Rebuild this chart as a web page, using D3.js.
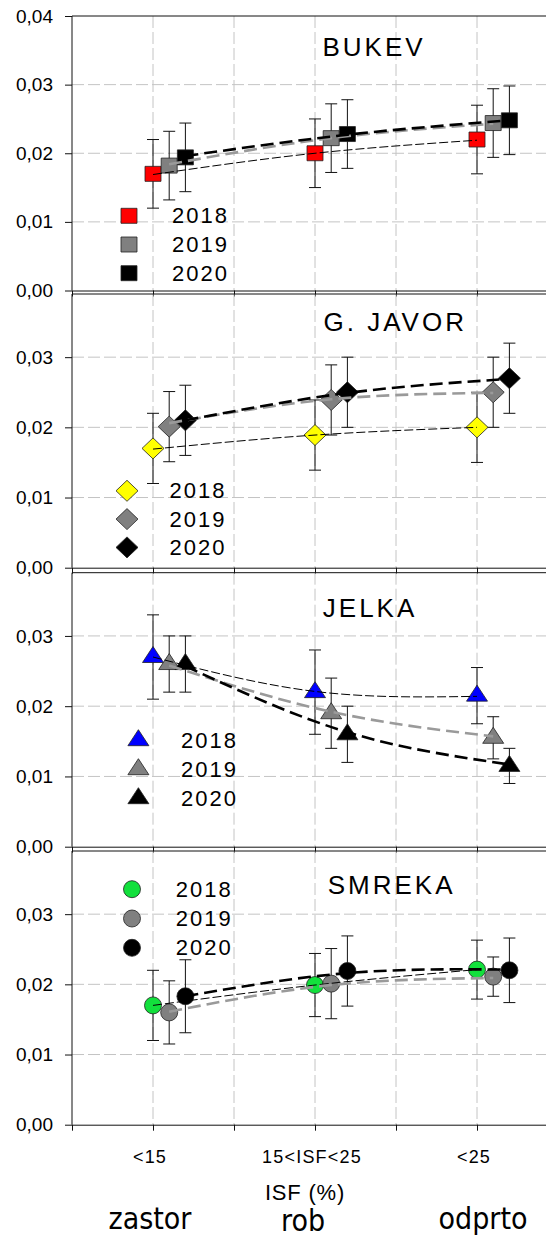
<!DOCTYPE html>
<html><head><meta charset="utf-8">
<script src="https://cdn.jsdelivr.net/npm/d3@7"></script>
<style>body{margin:0;background:#fff} svg{display:block;font-family:"Liberation Sans",Arial,sans-serif}</style>
</head><body>
<script>
// ---------- DATA ----------
const categories = ["<15", "15<ISF<25", "<25"];
const zoneLabels = ["zastor", "rob", "odprto"];
const years = ["2018", "2019", "2020"];
const species = ["BUKEV", "G. JAVOR", "JELKA", "SMREKA"];
const yTicksTop = [0, 0.01, 0.02, 0.03, 0.04];
const yTicks = [0, 0.01, 0.02, 0.03];
const xAxisLabel = "ISF (%)";

// means by year [2018, 2019, 2020] x category
const bukevMeans  = [[0.0170, 0.0200, 0.0220], [0.0182, 0.0222, 0.0244], [0.0194, 0.0228, 0.0248]];
const bukevErr    = [[0.0050, 0.0050, 0.0050], [0.0050, 0.0050, 0.0050], [0.0050, 0.0050, 0.0050]];
const bukevTrend  = [[0.0169, 0.0200, 0.0219], [0.0184, 0.0222, 0.0243], [0.0196, 0.0227, 0.0248]];

const javorMeans  = [[0.0170, 0.0189, 0.0200], [0.0201, 0.0239, 0.0250], [0.0210, 0.0250, 0.0270]];
const javorErr    = [[0.0050, 0.0050, 0.0050], [0.0050, 0.0050, 0.0050], [0.0050, 0.0050, 0.0050]];
const javorTrend  = [[0.0169, 0.0189, 0.0200], [0.0206, 0.0240, 0.0249], [0.0210, 0.0249, 0.0269]];

const jelkaMeans  = [[0.0270, 0.0220, 0.0215], [0.0260, 0.0190, 0.0155], [0.0260, 0.0160, 0.0115]];
const jelkaErr    = [[0.0060, 0.0060, 0.0040], [0.0040, 0.0050, 0.0030], [0.0040, 0.0040, 0.0025]];
const jelkaTrend  = [[0.0270, 0.0221, 0.0214], [0.0258, 0.0192, 0.0157], [0.0257, 0.0163, 0.0117]];

const smrekaMeans = [[0.0170, 0.0199, 0.0221], [0.0160, 0.0201, 0.0211], [0.0183, 0.0219, 0.0220]];
const smrekaErr   = [[0.0050, 0.0045, 0.0042], [0.0045, 0.0050, 0.0028], [0.0052, 0.0050, 0.0046]];
const smrekaTrend = [[0.0170, 0.0199, 0.0221], [0.0161, 0.0199, 0.0209], [0.0183, 0.0216, 0.0221]];

// ---------- LAYOUT / STYLE ----------
const W = 546, H = 1239;
const svg = d3.select("body").append("svg").attr("width", W).attr("height", H);

const panels = [
  {name: species[0], shape: "square",   color: "#ff0000", means: bukevMeans,  errs: bukevErr,  trends: bukevTrend,
   top: 16,    bottom: 290.5,  ymax: 0.040, ticks: yTicksTop, title: [322.5, 56],   legend: {mx: 129, tx: 172, base: 223.3, step: 28.7}},
  {name: species[1], shape: "diamond",  color: "#ffff00", means: javorMeans,  errs: javorErr,  trends: javorTrend,
   top: 294,   bottom: 567.7,  ymax: 0.039, ticks: yTicks,    title: [323.5, 330.7], legend: {mx: 127, tx: 169.5, base: 498.3, step: 28.3}},
  {name: species[2], shape: "triangle", color: "#0000ff", means: jelkaMeans,  errs: jelkaErr,  trends: jelkaTrend,
   top: 572.7, bottom: 846.7,  ymax: 0.039, ticks: yTicks,    title: [322.8, 616.7], legend: {mx: 138.4, tx: 181, base: 747.7, step: 29}},
  {name: species[3], shape: "circle",   color: "#12e03c", means: smrekaMeans, errs: smrekaErr, trends: smrekaTrend,
   top: 851,   bottom: 1124.7, ymax: 0.039, ticks: yTicks,    title: [327.7, 894],   legend: {mx: 132, tx: 175.7, base: 896.7, step: 29.3}}
];

const x = d3.scaleLinear().domain([0, 6]).range([72, 558]);
const catPos = [1, 3, 5];
const yearOffset = [0, 0.2, 0.4];
const gridX = [1, 2, 3, 4, 5];

function shapePath(s) {
  switch (s) {
    case "square":   return "M-8,-7.5h16v15h-16Z";
    case "diamond":  return "M0,-10.5L11,0L0,10.5L-11,0Z";
    case "triangle": return "M0,-10.5L10.5,5.5L-10.5,5.5Z";
    default:         return "M8.5,0A8.5,8.5 0 1,1 -8.5,0A8.5,8.5 0 1,1 8.5,0Z";
  }
}
const yearFill = (p, i) => i === 0 ? p.color : (i === 1 ? "#808080" : "#000000");
const trendStyle = [
  {stroke: "#000", width: 1.0, dash: "9,3"},
  {stroke: "#9a9a9a", width: 2.6, dash: "13,6"},
  {stroke: "#000", width: 2.6, dash: "13,6"}
];
const fmt = d => d3.format(".2f")(d).replace(".", ",");

panels.forEach((p, pi) => {
  const y = d3.scaleLinear().domain([0, p.ymax]).range([p.bottom, p.top]);
  const g = svg.append("g");

  // grid
  g.selectAll(".hg").data(p.ticks.filter(t => t > 0 && t < p.ymax - 1e-6)).join("line")
    .attr("x1", x(0)).attr("x2", x(6)).attr("y1", d => y(d)).attr("y2", d => y(d))
    .attr("stroke", "#c4c4c4").attr("stroke-width", 1).attr("stroke-dasharray", "12,4");
  g.selectAll(".vg").data(gridX).join("line")
    .attr("x1", d => x(d)).attr("x2", d => x(d)).attr("y1", p.top).attr("y2", p.bottom)
    .attr("stroke", "#c4c4c4").attr("stroke-width", 1).attr("stroke-dasharray", "12,4");

  // frame top
  g.append("line").attr("x1", x(0)).attr("x2", x(6)).attr("y1", p.top).attr("y2", p.top)
    .attr("stroke", "#111").attr("stroke-width", 1);

  // axes
  const ya = g.append("g").attr("transform", `translate(${x(0)},0)`)
    .call(d3.axisLeft(y).tickValues(p.ticks).tickSize(7).tickSizeOuter(0).tickPadding(12).tickFormat(fmt));
  ya.select(".domain").attr("d", `M0,${p.top}V${p.bottom}`);
  ya.selectAll("text").attr("font-size", 19).attr("font-family", "Liberation Sans, Arial, sans-serif").attr("fill", "#000");
  ya.selectAll("line, path").attr("stroke", "#111");

  const xa = g.append("g").attr("transform", `translate(0,${p.bottom})`)
    .call(d3.axisBottom(x).tickValues([0, 1, 2, 3, 4, 5, 6]).tickSize(6).tickSizeOuter(0).tickFormat(""));
  xa.selectAll("line, path").attr("stroke", "#111");

  // error bars
  p.means.forEach((vals, yi) => {
    vals.forEach((v, ci) => {
      const cx = x(catPos[ci] + yearOffset[yi]);
      const e = p.errs[yi][ci];
      const eg = g.append("g").attr("stroke", "#111").attr("stroke-width", 1);
      eg.append("line").attr("x1", cx).attr("x2", cx).attr("y1", y(v - e)).attr("y2", y(v + e));
      eg.append("line").attr("x1", cx - 6).attr("x2", cx + 6).attr("y1", y(v - e)).attr("y2", y(v - e));
      eg.append("line").attr("x1", cx - 6).attr("x2", cx + 6).attr("y1", y(v + e)).attr("y2", y(v + e));
    });
  });

  // markers
  p.means.forEach((vals, yi) => {
    g.selectAll(null).data(vals).join("path")
      .attr("d", shapePath(p.shape))
      .attr("transform", (v, ci) => `translate(${x(catPos[ci] + yearOffset[yi])},${y(v)})`)
      .attr("fill", yearFill(p, yi)).attr("stroke", "#222").attr("stroke-width", 0.8);
  });

  // trend lines
  p.trends.forEach((vals, yi) => {
    const line = d3.line().curve(d3.curveNatural)
      .x((v, ci) => x(catPos[ci] + yearOffset[yi])).y(v => y(v));
    g.append("path").attr("d", line(vals)).attr("fill", "none")
      .attr("stroke", trendStyle[yi].stroke).attr("stroke-width", trendStyle[yi].width)
      .attr("stroke-dasharray", trendStyle[yi].dash);
  });

  // legend
  years.forEach((yr, yi) => {
    const by = p.legend.base + yi * p.legend.step;
    g.append("path").attr("d", shapePath(p.shape))
      .attr("transform", `translate(${p.legend.mx},${by - 7.5})`)
      .attr("fill", yearFill(p, yi)).attr("stroke", "#222").attr("stroke-width", 0.8);
    g.append("text").attr("x", p.legend.tx).attr("y", by).text(yr)
      .attr("font-size", 22).attr("letter-spacing", 2).attr("fill", "#000");
  });

  // title
  g.append("text").attr("x", p.title[0]).attr("y", p.title[1]).text(p.name)
    .attr("font-size", 26).attr("letter-spacing", 3).attr("fill", "#000");
});

// bottom category labels
const lastBottom = panels[3].bottom;
svg.selectAll(".cat").data(categories).join("text")
  .attr("x", (d, i) => x(catPos[i]) - 3).attr("y", lastBottom + 38)
  .attr("text-anchor", "middle").attr("font-size", 18).attr("letter-spacing", 1.2)
  .text(d => d);
svg.append("text").attr("x", x(3) - 10).attr("y", lastBottom + 75)
  .attr("text-anchor", "middle").attr("font-size", 22).attr("letter-spacing", 0.8).text(xAxisLabel);
svg.selectAll(".zone").data(zoneLabels).join("text")
  .attr("x", (d, i) => x(catPos[i]) + [-3, -12, 6][i]).attr("y", (d, i) => lastBottom + [104, 106, 104][i])
  .attr("text-anchor", "middle").attr("font-size", 30)
  .attr("font-family", "DejaVu Sans Condensed, DejaVu Sans, sans-serif").text(d => d);
</script>
</body></html>
